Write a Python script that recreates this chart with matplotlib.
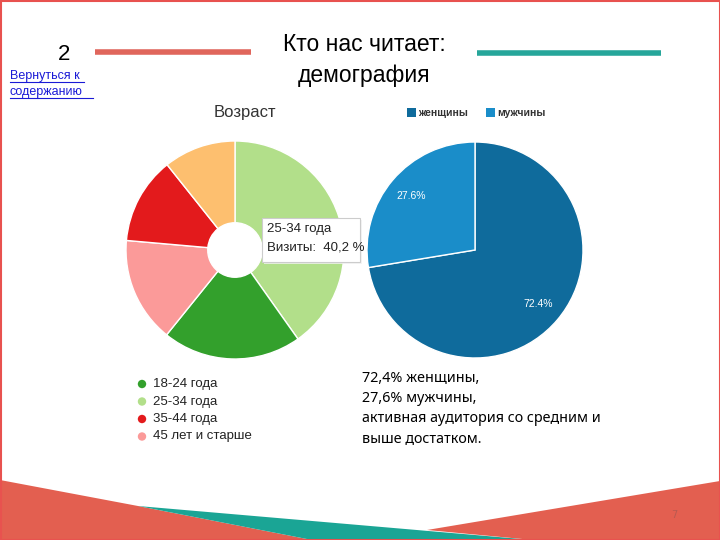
import matplotlib.pyplot as plt
from matplotlib.patches import Polygon, Rectangle, Circle

# данные
age_labels = ['25-34 года', '18-24 года', '45 лет и старше', '35-44 года', 'другие']
age_values = [40.2, 20.6, 15.6, 12.9, 10.7]
age_colors = ['#b2df8a', '#33a02c', '#fb9a99', '#e31a1c', '#fdbf6f']

legend_labels = ['18-24 года', '25-34 года', '35-44 года', '45 лет и старше']
legend_colors = ['#33a02c', '#b2df8a', '#e31a1c', '#fb9a99']

gender_labels = ['женщины', 'мужчины']
gender_values = [72.4, 27.6]
gender_colors = ['#0f6b9c', '#1a8dc9']

note_lines = ['72,4% женщины,', '27,6% мужчины,',
              'активная аудитория со средним и', 'выше достатком.']

W, H = 720, 540
fig = plt.figure(figsize=(7.2, 5.4), dpi=100)

# фон слайда в пикселях
bg = fig.add_axes([0, 0, 1, 1], zorder=0)
bg.set_xlim(0, W)
bg.set_ylim(H, 0)
bg.axis('off')

red = '#e35f50'
teal = '#1aa595'
bg.add_patch(Polygon([(0, 480), (138, 506), (312, 540), (0, 540)], color=red, lw=0))
bg.add_patch(Polygon([(138, 506), (533, 540), (312, 540)], color=teal, lw=0))
bg.add_patch(Polygon([(427, 530), (720, 481), (720, 540), (533, 540)], color=red, lw=0))
bg.add_patch(Rectangle((0.5, 0.5), W - 1, H - 1, fill=False, ec='#e8524f', lw=1.5))

bg.plot([95, 251], [52, 52], color='#e0665c', lw=4, solid_capstyle='butt')
bg.plot([477, 661], [53, 53], color='#26a69a', lw=4, solid_capstyle='butt')

bg.text(64, 54, '2', fontsize=16, ha='center', va='center', family='Liberation Sans')
bg.text(364, 60, 'Кто нас читает:\nдемография', fontsize=16.5, ha='center', va='center',
        family='Liberation Sans', linespacing=1.4)
bg.text(10, 84, 'Вернуться к\nсодержанию', fontsize=9, ha='left', va='center',
        color='#1a1ad6', family='Liberation Sans', linespacing=1.4)
bg.plot([10, 84], [81.5, 81.5], color='#1a1ad6', lw=0.8)
bg.plot([10, 93], [97.5, 97.5], color='#1a1ad6', lw=0.8)
bg.text(674, 515, '7', fontsize=7, color='#b85a50', ha='center', va='center')

bg.text(245, 113, 'Возраст', fontsize=12, ha='center', va='center', color='#333333',
        family='Liberation Sans')

# легенда возраста
for i, (lab, col) in enumerate(zip(legend_labels, legend_colors)):
    y = 384 + i * 17.5
    bg.add_patch(Circle((142, y), 4.2, color=col, lw=0))
    bg.text(153, y, lab, fontsize=9.5, va='center', color='#222222', family='Liberation Sans')

# легенда пола
gx = [407, 486]
for x, lab, col in zip(gx, gender_labels, gender_colors):
    bg.add_patch(Rectangle((x, 108), 9, 9, color=col, lw=0))
    bg.text(x + 11, 112.5, lab, fontsize=7.5, fontweight='bold', va='center',
            color='#333333', family='Liberation Sans')

for i, line in enumerate(note_lines):
    bg.text(362, 379 + i * 20, line, fontsize=10.3, va='center', family='Noto Sans')


def pie_axes(cx, cy, r):
    ax = fig.add_axes([(cx - r) / W, (H - cy - r) / H, 2 * r / W, 2 * r / H], zorder=2)
    return ax


ax1 = pie_axes(235, 250, 109)
ax1.pie(age_values, colors=age_colors, startangle=90, counterclock=False,
        wedgeprops=dict(edgecolor='white', linewidth=1, width=0.75))
ax1.set_xlim(-1, 1)
ax1.set_ylim(-1, 1)
ax1.axis('off')

ax2 = pie_axes(475, 250, 108)
ax2.pie(gender_values, colors=gender_colors, startangle=90, counterclock=False,
        autopct='%.1f%%', pctdistance=0.77,
        textprops=dict(color='white', fontsize=7.5, family='Liberation Sans'),
        wedgeprops=dict(edgecolor='white', linewidth=1))
ax2.set_xlim(-1, 1)
ax2.set_ylim(-1, 1)
ax2.axis('off')

# подсказка поверх круга
top = fig.add_axes([0, 0, 1, 1], zorder=5)
top.set_xlim(0, W)
top.set_ylim(H, 0)
top.axis('off')
top.patch.set_alpha(0)
top.add_patch(Rectangle((264, 220), 98, 44, fc='#f2f2f2', ec='none', alpha=0.8))
top.add_patch(Rectangle((262, 218), 98, 44, fc='white', ec='#cccccc', lw=0.8))
top.text(267, 229, '25-34 года', fontsize=9.5, va='center', color='#222222',
         family='Liberation Sans')
top.text(267, 247, 'Визиты:  40,2 %', fontsize=9.5, va='center', color='#222222',
         family='Liberation Sans')

fig.savefig('out.png', dpi=100)
